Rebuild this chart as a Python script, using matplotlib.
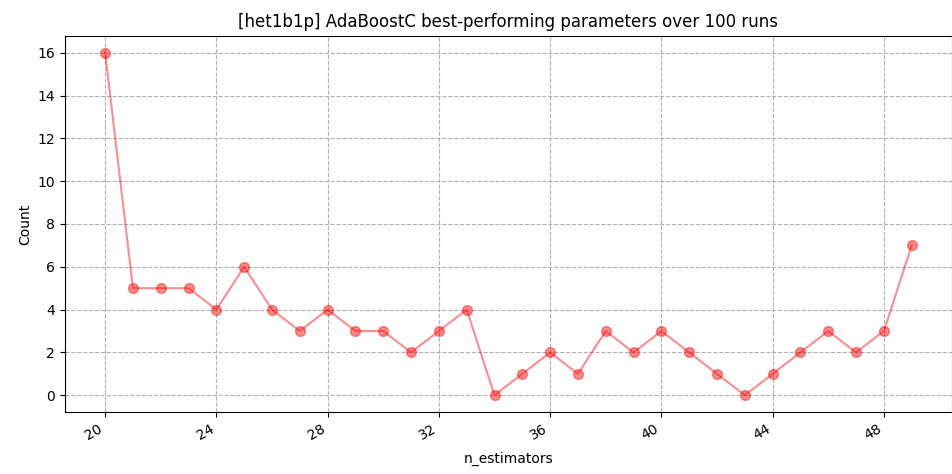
import matplotlib
matplotlib.use('Agg')
import matplotlib.pyplot as plt
from matplotlib.ticker import MultipleLocator

# n_estimators picked as best over 100 runs
n_estimators = list(range(20, 50))
counts = [16, 5, 5, 5, 4, 6, 4, 3, 4, 3, 3, 2, 3, 4, 0, 1, 2, 1, 3, 2,
          3, 2, 1, 0, 1, 2, 3, 2, 3, 7]

fig, ax = plt.subplots(figsize=(9.53, 4.74), dpi=100)
ax.plot(n_estimators, counts, 'o-', color='red', alpha=0.45, markersize=7)
ax.set_title('[het1b1p] AdaBoostC best-performing parameters over 100 runs')
ax.set_xlabel('n_estimators', labelpad=6)
ax.set_ylabel('Count')
ax.xaxis.set_major_locator(MultipleLocator(4))
ax.yaxis.set_major_locator(MultipleLocator(2))
ax.grid(linestyle='--', color='#b0b0b0')
fig.autofmt_xdate(rotation=30, ha='right')
fig.subplots_adjust(left=0.068, right=0.999, top=0.925, bottom=0.13)
fig.savefig('out.png')
